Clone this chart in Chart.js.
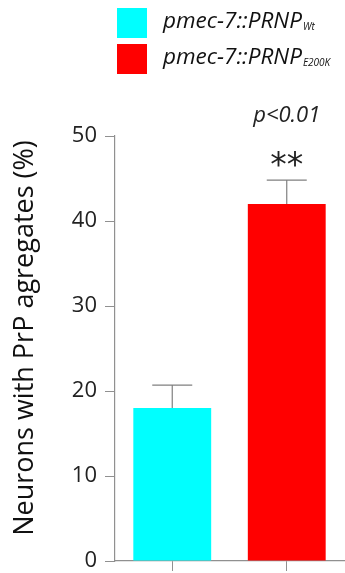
<!DOCTYPE html>
<html><head><meta charset="utf-8">
<script src="https://cdn.jsdelivr.net/npm/chart.js@4"></script>
<style>html,body{margin:0;padding:0;background:#fff}#wrap{width:345px;height:573px;position:relative}</style>
</head><body><div id="wrap"><canvas id="c" width="345" height="573"></canvas></div>
<script>
const categories = ["pmec-7::PRNP Wt", "pmec-7::PRNP E200K"];
const legendMain = ["pmec-7::PRNP", "pmec-7::PRNP"];
const legendSub = ["Wt", "E200K"];
const values = [18, 42];
const errors = [2.7, 2.8];
const colors = ["#00ffff", "#ff0000"];
const yTicks = [0, 10, 20, 30, 40, 50];
const yTitle = "Neurons with PrP agregates (%)";
const sigText = "**";
const pText = "p<0.01";

const FONT = "'Open Sans', sans-serif";
const AXIS = "#909090";

const extras = {
  id: 'extras',
  afterDatasetsDraw(chart) {
    const ctx = chart.ctx, x = chart.scales.x, y = chart.scales.y;
    ctx.save();
    ctx.strokeStyle = "#808080"; ctx.lineWidth = 1.2;
    values.forEach((v, i) => {
      const cx = x.getPixelForValue(i);
      const top = y.getPixelForValue(v + errors[i]);
      const base = y.getPixelForValue(v);
      ctx.beginPath();
      ctx.moveTo(cx, base); ctx.lineTo(cx, top);
      ctx.moveTo(cx - 20, top); ctx.lineTo(cx + 20, top);
      ctx.stroke();
    });
    // significance
    const cx = x.getPixelForValue(1);
    const errTop = y.getPixelForValue(values[1] + errors[1]);
    ctx.fillStyle = "#222"; ctx.textAlign = "center"; ctx.textBaseline = "alphabetic";
    ctx.font = "33px 'DejaVu Sans', sans-serif";
    ctx.fillText(sigText, cx, errTop - 4);
    ctx.font = "italic 22px " + FONT;
    ctx.fillText(pText, cx, 122);
    // y title
    ctx.save();
    ctx.translate(33, 338);
    ctx.rotate(-Math.PI / 2);
    ctx.fillStyle = "#111";
    ctx.font = "27px " + FONT;
    ctx.fillText(yTitle, 0, 0);
    ctx.restore();
    // legend
    ctx.textAlign = "left";
    const rows = [8, 44];
    rows.forEach((ry, i) => {
      ctx.fillStyle = colors[i];
      ctx.fillRect(117, ry, 30, 30);
      ctx.fillStyle = "#111";
      ctx.font = "italic 22.5px " + FONT;
      ctx.fillText(legendMain[i], 163, ry + 20);
      const w = ctx.measureText(legendMain[i]).width;
      ctx.font = "italic 10px " + FONT;
      ctx.fillText(legendSub[i], 163 + w + 1, ry + 22);
    });
    ctx.restore();
  }
};

new Chart(document.getElementById('c'), {
  type: 'bar',
  data: {
    labels: categories,
    datasets: [{ data: values, backgroundColor: colors, borderWidth: 0,
      barPercentage: 0.68, categoryPercentage: 1 }]
  },
  options: {
    responsive: false, animation: false, devicePixelRatio: 1,
    layout: { padding: { top: 136, right: 1, bottom: 0, left: 0 } },
    plugins: { legend: { display: false }, tooltip: { enabled: false } },
    scales: {
      x: {
        afterFit(s) { s.height = 12; },
        grid: { display: true, drawOnChartArea: false, drawTicks: true, tickLength: 10, color: AXIS, offset: false },
        border: { color: AXIS, width: 1.2 },
        ticks: { display: false }
      },
      y: {
        min: 0, max: 50,
        afterBuildTicks(s) { s.ticks = yTicks.map(v => ({ value: v })); },
        afterFit(s) { s.width = 115; s.paddingBottom = 0; s.paddingTop = 0; },
        grid: { display: true, drawOnChartArea: false, tickLength: 10, color: AXIS },
        border: { color: AXIS, width: 1.2 },
        ticks: { color: "#222", font: { family: FONT, size: 22, lineHeight: 0.2 }, padding: 8 },
        title: { display: false }
      }
    }
  },
  plugins: [extras]
});
</script></body></html>
